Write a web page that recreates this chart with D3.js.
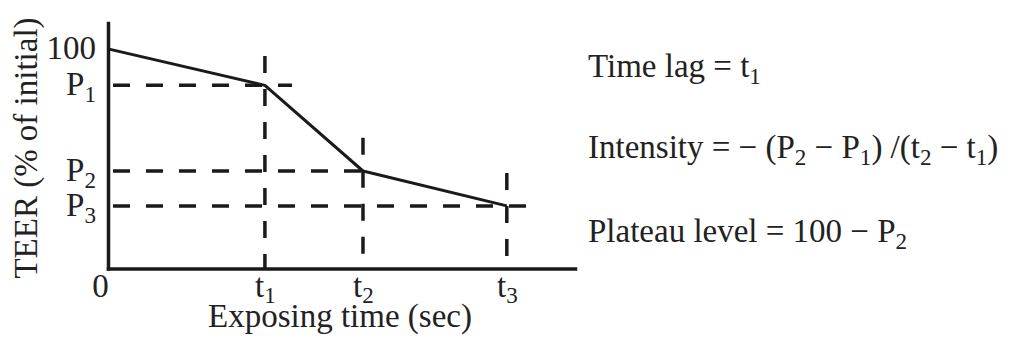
<!DOCTYPE html>
<html>
<head>
<meta charset="utf-8">
<script src="https://cdn.jsdelivr.net/npm/d3@7"></script>
<style>
  html, body { margin: 0; padding: 0; background: #fff; }
  svg text { font-family: "Liberation Serif", "Times New Roman", serif; fill: #222; }
</style>
</head>
<body>
<svg id="chart" width="1013" height="340"></svg>
<script>
// ---- data (schematic units) ----
const times = [0, 33.6, 54.6, 85.4];          // 0, t1, t2, t3
const teer = [100, 83.4, 44.4, 28.5];         // 100, P1, P2, P3
const xTickLabels = [["0", ""], ["t", "1"], ["t", "2"], ["t", "3"]];
const yTickLabels = [["100", ""], ["P", "1"], ["P", "2"], ["P", "3"]];
const vGuideTop = [96.8, 59.5, 43.5];         // top of vertical dashed guides at t1,t2,t3
const hGuideEnd = [39.4, 56.1, 91.4];         // right end of horizontal dashed guides at P1,P2,P3
const xDomain = [0, 100];
const yDomain = [0, 111.8];
const xTitle = "Exposing time (sec)";
const yTitle = "TEER (% of initial)";
const notes = [
  [["Time lag = t", ""], ["1", "sub"]],
  [["Intensity = − (P", ""], ["2", "sub"], [" − P", ""], ["1", "sub"], [") /(t", ""], ["2", "sub"], [" − t", ""], ["1", "sub"], [")", ""]],
  [["Plateau level = 100 − P", ""], ["2", "sub"]]
];

const svg = d3.select("#chart");
const x = d3.scaleLinear().domain(xDomain).range([108, 575]);
const y = d3.scaleLinear().domain(yDomain).range([268.5, 23]);
const ink = "#1a1a1a";
const FS = 33;
const SUB = 0.7;
const SUBDY = 7;

function addParts(sel, parts, subDy) {
  const sd = subDy === undefined ? SUBDY : subDy;
  parts.forEach((p, j) => {
    const ts = sel.append("tspan").text(p[0]);
    if (p[1] === "sub") ts.attr("font-size", FS * SUB).attr("dy", sd);
    else if (j > 0 && parts[j - 1][1] === "sub") ts.attr("dy", -sd);
  });
}
function labelParts(lbl) {
  return lbl[1] ? [[lbl[0], ""], [lbl[1], "sub"]] : [[lbl[0], ""]];
}

// dashed guides
const guides = svg.append("g").attr("stroke", ink).attr("stroke-width", 3.5)
  .attr("stroke-dasharray", "17,16").attr("fill", "none");
times.slice(1).forEach((t, i) => {
  guides.append("line").attr("x1", x(t)).attr("x2", x(t))
    .attr("y1", y(vGuideTop[i])).attr("y2", y(0));
});
teer.slice(1).forEach((p, i) => {
  guides.append("line").attr("x1", x(0) + 5).attr("x2", x(hGuideEnd[i]))
    .attr("y1", y(p)).attr("y2", y(p));
});

// axes
const xAxis = d3.axisBottom(x).tickValues(times).tickSize(0).tickSizeOuter(0).tickFormat(() => "");
const yAxis = d3.axisLeft(y).tickValues(teer).tickSize(0).tickSizeOuter(0).tickFormat(() => "");
const gx = svg.append("g").attr("transform", `translate(0,${y(0)})`).call(xAxis);
const gy = svg.append("g").attr("transform", `translate(${x(0)},0)`).call(yAxis);
[gx, gy].forEach(g => g.select(".domain").attr("stroke", ink).attr("stroke-width", 3.5).attr("stroke-linecap", "square"));

gx.selectAll(".tick text").each(function(d, i) {
  const s = d3.select(this).attr("font-size", FS).attr("fill", ink)
    .attr("y", 28).attr("dy", 0).attr("text-anchor", "middle")
    .attr("x", i === 0 ? -8 : 0);
  s.text("");
  addParts(s, labelParts(xTickLabels[i]), 6);
});
gy.selectAll(".tick text").each(function(d, i) {
  const s = d3.select(this).attr("font-size", FS).attr("fill", ink)
    .attr("x", -12).attr("dy", 0).attr("y", 9.5).attr("text-anchor", "end");
  s.text("");
  addParts(s, labelParts(yTickLabels[i]));
});

// curve
svg.append("path")
  .datum(times.map((t, i) => [t, teer[i]]))
  .attr("fill", "none").attr("stroke", ink).attr("stroke-width", 3)
  .attr("stroke-linejoin", "round")
  .attr("d", d3.line().x(d => x(d[0])).y(d => y(d[1])));

// titles
svg.append("text").attr("x", 340).attr("y", 327).attr("text-anchor", "middle")
  .attr("font-size", FS).attr("fill", ink).text(xTitle);
svg.append("text").attr("transform", "translate(37,148) rotate(-90)").attr("text-anchor", "middle")
  .attr("font-size", FS).attr("fill", ink).text(yTitle);

// notes
const noteY = [77, 158, 242];
notes.forEach((parts, i) => {
  const t = svg.append("text").attr("x", 588).attr("y", noteY[i]).attr("font-size", FS).attr("fill", ink);
  addParts(t, parts);
});
</script>
</body>
</html>
